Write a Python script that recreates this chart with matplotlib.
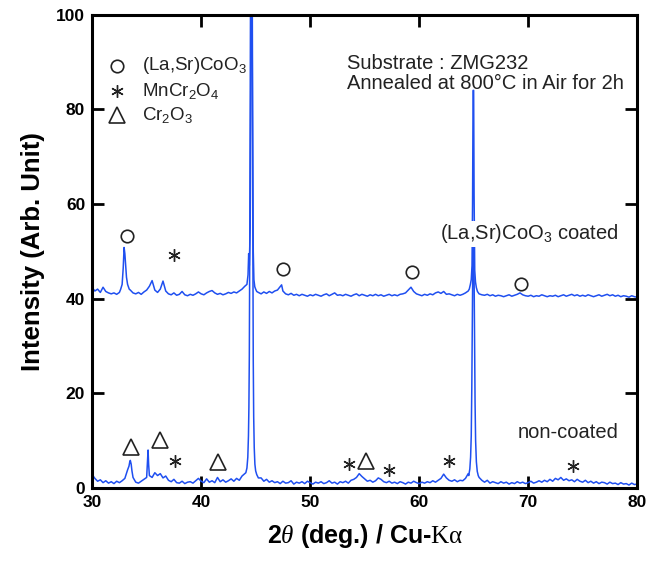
import numpy as np
import matplotlib
matplotlib.use("Agg")
import matplotlib.pyplot as plt

plt.rcParams['font.family'] = ['Liberation Sans', 'DejaVu Sans']
plt.rcParams['mathtext.fontset'] = 'custom'
plt.rcParams['mathtext.rm'] = 'Liberation Serif'
plt.rcParams['mathtext.it'] = 'Liberation Serif:italic'
plt.rcParams['mathtext.default'] = 'regular'

BLUE = '#1f4ff0'

# intensities read every 0.25 deg from 30 to 80 (201 values)
nc_base = [
    2.8, 2.0, 1.4, 1.7,   1.1, 1.5, 1.0, 1.3,   0.9, 1.4, 1.1, 1.5,
    2.0, 3.8, 5.8, 2.2,   1.2, 1.0, 1.4, 1.8,   2.2, 2.6, 2.2, 3.2,
    2.6, 3.0, 2.1, 2.5,   1.6, 1.3, 1.8, 1.1,   1.0, 1.4, 0.9, 1.2,
    1.3, 1.0, 1.5, 2.0,   1.4, 1.1, 1.9, 1.2,   1.5, 1.1, 2.2, 1.3,
    1.7, 1.2, 1.5, 1.9,   1.4, 2.0, 1.6, 2.5,   3.0, 4.0, 4.0, 4.0,
    4.0, 2.1, 2.1, 1.4,   1.8, 1.2, 1.5, 1.1,   1.3, 0.9, 1.4, 1.0,
    1.1, 1.5, 0.8, 1.2,   1.0, 1.3, 0.9, 1.4,   1.1, 0.8, 1.2, 1.0,
    1.3, 0.9, 1.1, 1.5,   1.0, 1.2, 0.8, 1.3,   1.1, 1.4, 1.0, 1.6,
    1.8, 2.2, 3.0, 2.4,   1.9, 1.4, 1.6, 1.2,   1.5, 2.1, 1.8, 1.3,
    1.1, 1.4, 1.0, 1.2,   0.9, 1.3, 1.1, 0.8,   1.2, 1.0, 1.4, 1.1,
    0.9, 1.2, 1.0, 1.3,   1.1, 1.5, 1.2, 1.6,   2.0, 2.9, 2.1, 1.6,
    1.4, 1.7, 1.3, 1.6,   1.5, 2.0, 3.0, 3.0,   3.0, 3.0, 2.2, 1.6,
    1.2, 1.6, 1.0, 1.3,   1.1, 0.9, 1.3, 1.0,   1.2, 0.8, 1.1, 0.9,
    1.3, 1.0, 1.2, 0.9,   1.1, 1.4, 1.0, 1.2,   1.5, 1.2, 1.6, 1.3,
    1.8, 1.4, 2.0, 1.7,   2.2, 1.6, 1.9, 1.5,   1.7, 1.3, 1.8, 1.4,
    1.2, 1.6, 1.1, 1.4,   1.0, 1.3, 0.9, 1.2,   1.1, 0.8, 1.2, 0.9,
    1.0, 0.7, 1.1, 0.8,   0.9, 0.6, 1.0, 0.7,
    0.8,
]
nc_cut = [(44.05, 45.15), (64.5, 65.45)]
nc_peak_tt = [33.38, 33.45, 33.58, 33.65, 35.08, 35.13, 35.18,
              44.10, 44.20, 44.28, 44.34, 44.38, 44.42, 44.46, 44.50, 44.54,
              44.66, 44.70, 44.74, 44.78, 44.82, 44.87, 44.93, 45.00, 45.10,
              64.55, 64.65, 64.72, 64.78, 64.83, 64.88, 64.93, 64.98, 65.03,
              65.08, 65.13, 65.18, 65.25, 65.33, 65.42]
nc_peak_int = [4.6, 5.5, 5.0, 3.6, 6.0, 8.0, 5.0,
               3.2, 4.2, 6.5, 11.0, 17.0, 28.0, 52.0, 85.0, 110.0,
               110.0, 80.0, 50.0, 27.0, 15.0, 8.5, 5.0, 3.6, 2.8,
               2.6, 4.0, 6.5, 11.0, 21.0, 37.0, 50.0, 52.0, 48.0,
               32.0, 18.0, 10.0, 5.5, 3.5, 2.6]

co_base = [
    42.3, 41.6, 42.0, 41.3,   42.4, 41.5, 41.2, 41.0,   41.2, 40.9, 41.3, 43.0,
    49.5, 43.0, 41.8, 41.2,   41.0, 41.3, 40.9, 41.4,   41.8, 42.6, 43.8, 41.8,
    41.3, 42.0, 43.7, 41.6,   41.0, 40.8, 41.2, 40.7,   40.9, 41.5, 40.8, 40.6,
    40.9, 40.7, 41.0, 41.4,   41.0, 40.8, 41.2, 41.5,   41.7, 41.2, 40.9, 41.1,
    40.8, 41.0, 41.3, 41.1,   41.4, 41.2, 41.6, 42.0,   42.6, 45.0, 45.0, 45.0,
    42.0, 41.3, 41.0, 41.4,   41.1, 41.5, 41.2, 41.6,   41.8, 42.5, 41.6, 41.0,
    40.8, 41.1, 40.7, 40.9,   40.6, 40.9, 40.7, 40.5,   40.8, 40.6, 40.9, 40.7,
    40.5, 40.8, 41.0, 40.6,   40.9, 41.2, 40.7, 40.8,   40.6, 40.9, 40.7, 40.5,
    40.8, 41.0, 40.6, 40.9,   40.7, 40.5, 40.8, 40.6,   40.9, 40.6, 40.8, 40.5,
    40.7, 40.9, 40.6, 40.8,   40.6, 40.9, 41.0, 41.2,   41.8, 42.4, 41.5, 41.0,
    40.8, 40.6, 40.9, 40.7,   41.0, 40.8, 41.2, 41.4,   41.1, 41.5, 40.9, 41.0,
    40.8, 40.6, 40.9, 40.7,   40.9, 41.2, 41.6, 43.0,   43.0, 43.0, 41.0, 40.8,
    40.7, 40.9, 40.6, 40.8,   40.5, 40.7, 40.6, 40.4,   40.6, 40.8, 40.5, 40.7,
    40.9, 41.2, 40.8, 40.6,   40.5, 40.7, 40.4, 40.6,   40.5, 40.8, 40.6, 40.4,
    40.6, 40.5, 40.7, 40.4,   40.6, 40.8, 40.5, 40.7,   40.9, 40.6, 40.8, 40.5,
    40.7, 40.5, 40.8, 40.6,   40.4, 40.6, 40.8, 40.5,   40.7, 40.9, 40.6, 40.8,
    40.5, 40.7, 40.4, 40.6,   40.5, 40.3, 40.6, 40.4,
    40.3,
]
co_cut = [(44.05, 45.15), (64.55, 65.45)]
co_peak_tt = [32.62, 32.85, 32.93, 33.07, 33.15, 33.4, 47.38,
              44.20, 44.30, 44.36, 44.42, 44.50, 44.56, 44.60, 44.68, 44.72,
              44.78, 44.84, 44.92, 45.00, 45.10,
              64.60, 64.70, 64.78, 64.85, 64.90, 64.95, 65.00, 65.04, 65.10,
              65.17, 65.25, 65.35]
co_peak_int = [42.0, 46.5, 50.8, 47.0, 44.5, 42.0, 42.9,
               43.0, 45.0, 49.5, 47.0, 55.0, 90.0, 110.0, 110.0, 80.0,
               50.0, 44.0, 42.5, 42.0, 41.5,
               42.0, 43.0, 44.0, 47.0, 60.0, 84.0, 84.0, 62.0, 46.0,
               43.5, 42.3, 41.5]

# phase marks: (2theta, intensity)
lsco_tt = [33.2, 47.5, 59.3, 69.3]
lsco_y = [53.2, 46.2, 45.6, 43.1]
mncr_tt = [37.5, 37.6, 53.6, 57.2, 62.7, 74.1]
mncr_y = [49.3, 5.6, 5.0, 3.8, 5.6, 4.6]
cr2o3_tt = [33.6, 36.2, 41.5, 55.1]
cr2o3_y = [8.6, 10.1, 5.5, 5.7]

legend_labels = ['(La,Sr)CoO$_3$', 'MnCr$_2$O$_4$', 'Cr$_2$O$_3$']


def build(base, cuts, ptt, pint):
    tt = np.linspace(30, 80, len(base))
    y = np.array(base, dtype=float)
    keep = np.ones(len(tt), dtype=bool)
    for lo, hi in cuts:
        keep &= ~((tt > lo) & (tt < hi))
    x = np.concatenate([tt[keep], ptt])
    y = np.concatenate([y[keep], pint])
    order = np.argsort(x)
    return x[order], y[order]


fig = plt.figure(figsize=(6.63, 5.64), dpi=100)
ax = fig.add_axes([0.139, 0.135, 0.822, 0.839])

x, y = build(nc_base, nc_cut, nc_peak_tt, nc_peak_int)
ax.plot(x, y, color=BLUE, lw=1.1)
x, y = build(co_base, co_cut, co_peak_tt, co_peak_int)
ax.plot(x, y, color=BLUE, lw=1.1)

mk = dict(ls='none', mfc='none', mec='#222222', mew=1.2)
ak = dict(ls='none', mfc='none', mec='#222222', mew=1.0)
ax.plot(lsco_tt, lsco_y, marker='o', ms=9, **mk)
ax.plot(mncr_tt, mncr_y, marker=(6, 2, 0), ms=9, **ak)
ax.plot(cr2o3_tt, cr2o3_y, marker='^', ms=11, **mk)

# legend-like key in the upper left
key_y = [89.2, 83.8, 78.8]
ax.plot([32.3], [key_y[0]], marker='o', ms=9, **mk)
ax.plot([32.3], [key_y[1]], marker=(6, 2, 0), ms=9, **ak)
ax.plot([32.3], [key_y[2]], marker='^', ms=11, **mk)
for yy, lab in zip(key_y, legend_labels):
    ax.text(34.6, yy, lab, fontsize=13.5, va='center', ha='left', color='#222222')

ax.text(53.4, 89.7, 'Substrate : ZMG232', fontsize=14.5, va='center', color='#222222')
ax.text(53.4, 85.5, 'Annealed at 800\u00b0C in Air for 2h', fontsize=14.5,
        va='center', color='#222222')
ax.text(78.3, 53.7, '(La,Sr)CoO$_3$ coated', fontsize=14.5, ha='right',
        va='center', color='#222222', zorder=5,
        bbox=dict(facecolor='white', edgecolor='none', pad=1))
ax.text(78.3, 11.6, 'non-coated', fontsize=14.5, ha='right', va='center',
        color='#222222')

ax.set_xlim(30, 80)
ax.set_ylim(0, 100)
ax.set_xticks([30, 40, 50, 60, 70, 80])
ax.set_yticks([0, 20, 40, 60, 80, 100])
ax.tick_params(direction='in', top=True, right=True, length=8.5, width=2,
               labelsize=12.5, pad=5)
for lab in ax.get_xticklabels() + ax.get_yticklabels():
    lab.set_fontweight('bold')
for s in ax.spines.values():
    s.set_linewidth(2.2)

ax.set_xlabel(r'2$\mathit{\theta}$ (deg.) / Cu-$\mathrm{K\alpha}$', fontsize=18,
              fontweight='bold', labelpad=9)
ax.set_ylabel('Intensity (Arb. Unit)', fontsize=18.5, fontweight='bold', labelpad=8)

fig.savefig('out.png', dpi=100)
